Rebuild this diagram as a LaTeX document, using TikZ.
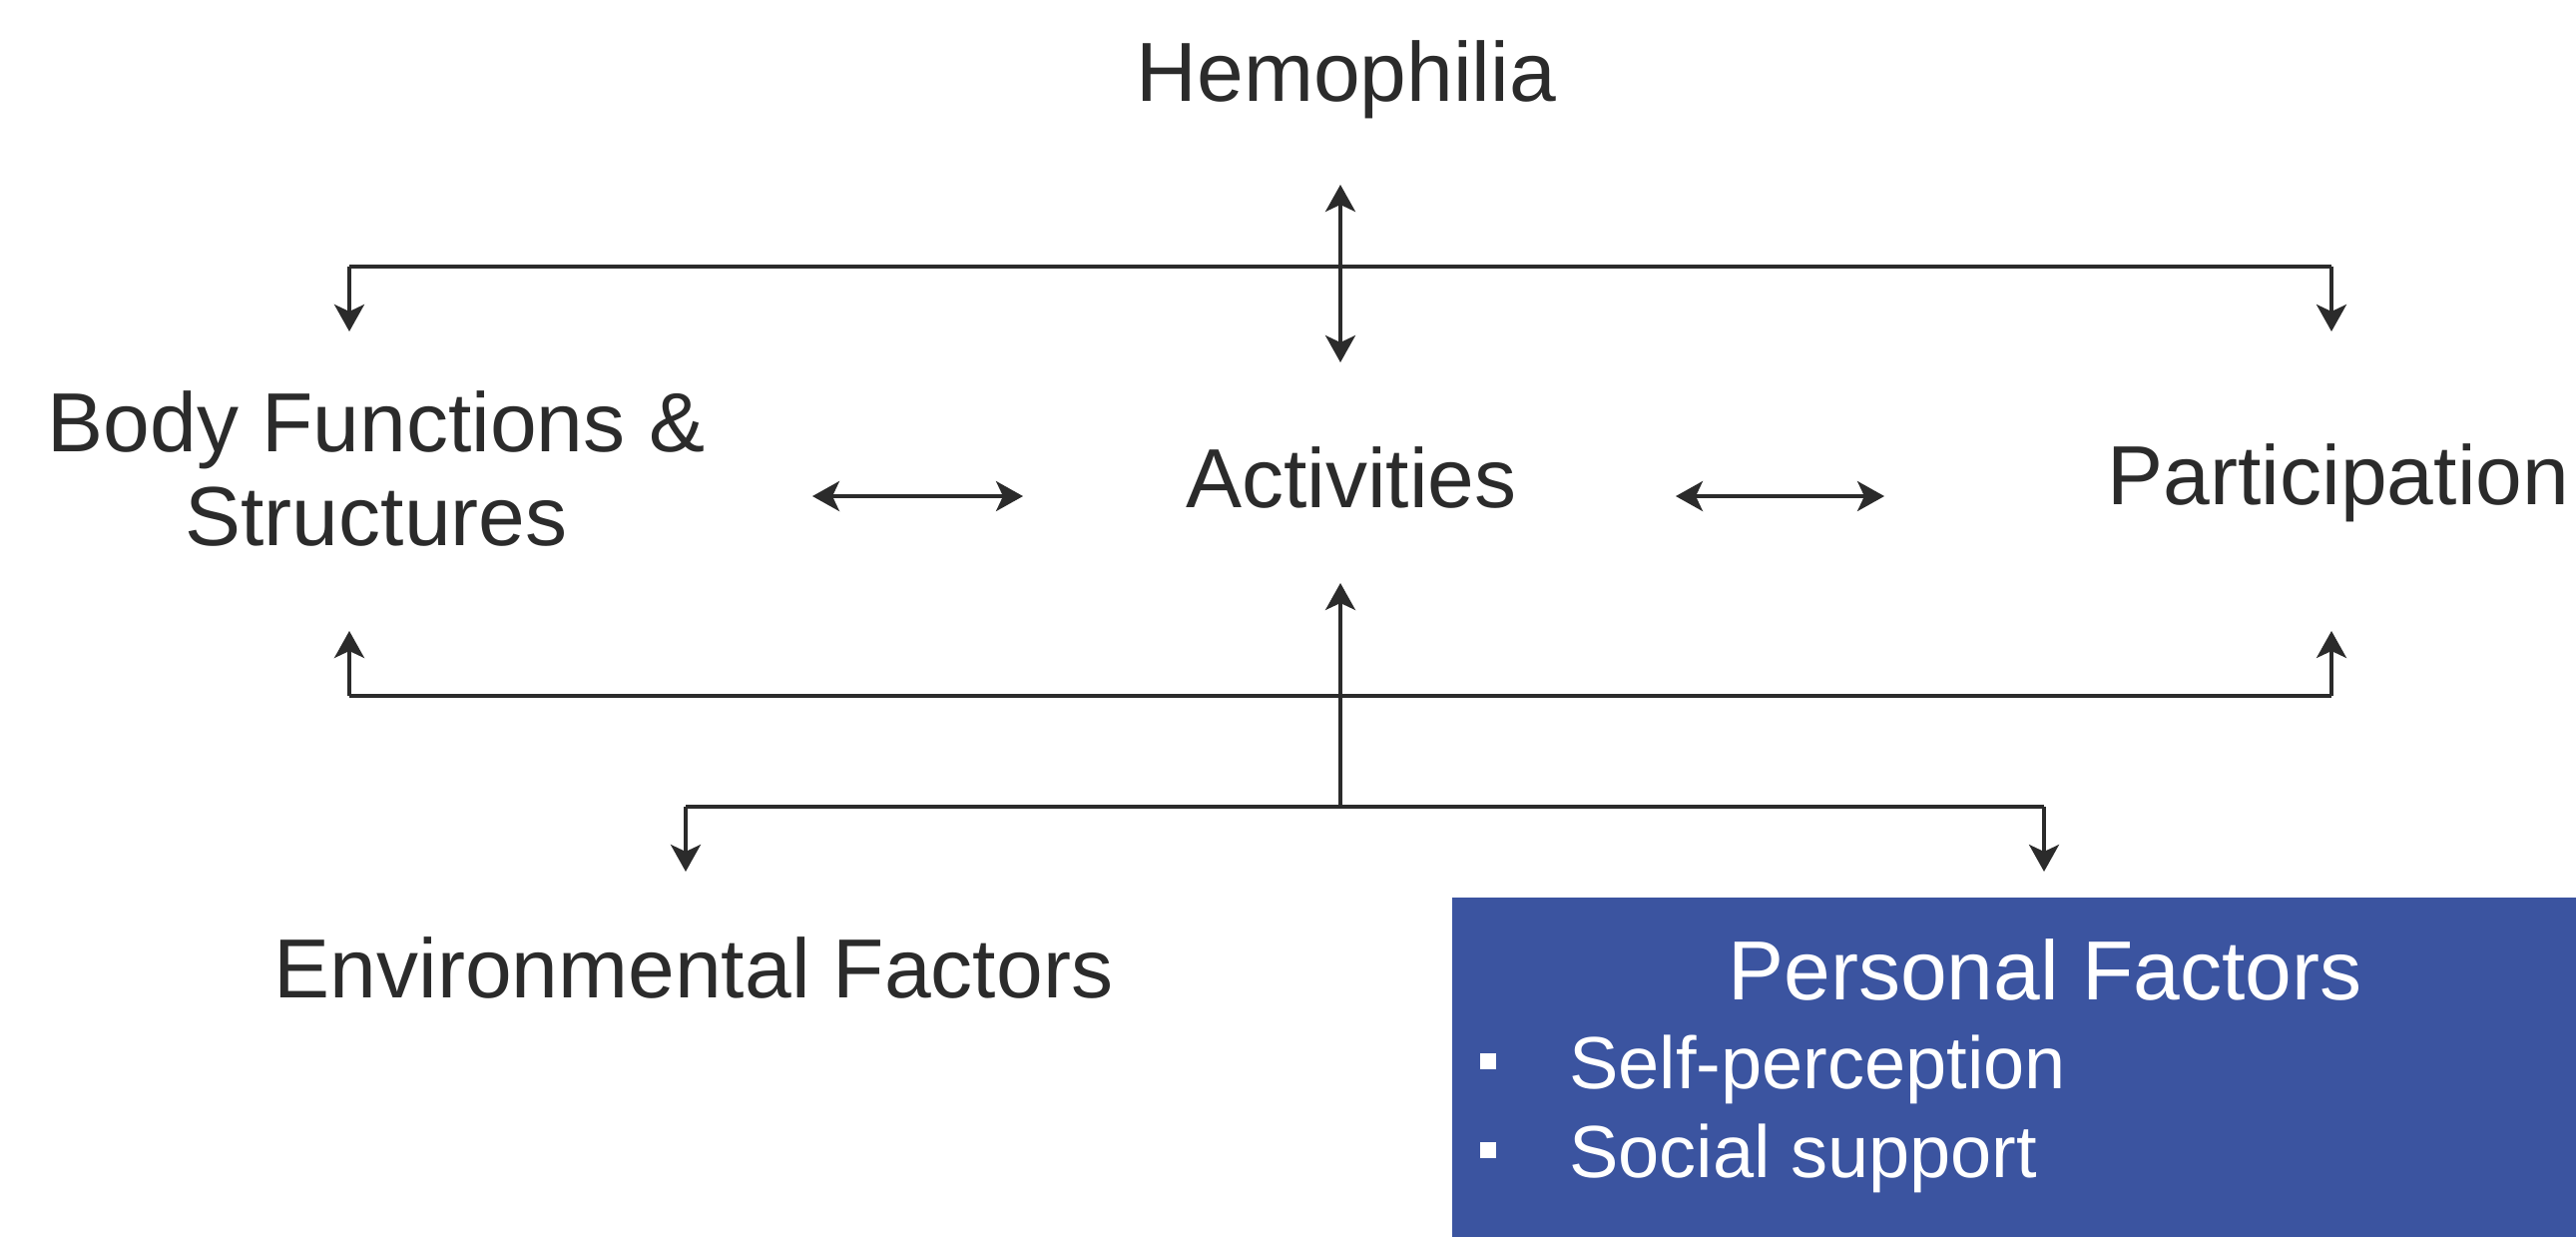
\documentclass[tikz,border=0pt]{standalone}
\usepackage{fontspec}
\setmainfont{Liberation Sans}
\usetikzlibrary{arrows.meta}
\definecolor{ink}{HTML}{2B2B2B}
\definecolor{pfblue}{HTML}{3B54A0}
\tikzset{
  lbl/.style={anchor=base, text=ink, inner sep=0pt, font=\fontsize{84}{97}\selectfont},
  conn/.style={draw=ink, line width=3.5pt},
  tip/.style={-{Stealth[length=27pt,width=30pt,inset=7pt]}},
  tips/.style={{Stealth[length=27pt,width=30pt,inset=7pt]}-{Stealth[length=27pt,width=30pt,inset=7pt]}},
  bul/.style={fill=white, minimum size=16pt, inner sep=0pt, draw=none},
}
\begin{document}
\begin{tikzpicture}[x=1pt,y=-1pt]
\useasboundingbox (0,0) rectangle (2581,1239);
% blue box
\fill[pfblue] (1455,899) rectangle (2581,1239);
% labels
\node[lbl] (hemo) at (1349,102) {Hemophilia};
\node[lbl, align=center, font=\fontsize{84}{94}\selectfont] (body) at (377,546) {Body Functions \&\\Structures};
\node[lbl] (act) at (1354,508) {Activities};
\node[lbl] (part) at (2343,505) {Participation};
\node[lbl] (env) at (695,999) {Environmental Factors};
\node[lbl, text=white] (pf) at (2049,1001) {Personal Factors};
\node[lbl, text=white, anchor=base west, font=\fontsize{74}{88}\selectfont] (pf1) at (1572,1090) {Self-perception};
\node[lbl, text=white, anchor=base west, font=\fontsize{74}{88}\selectfont] (pf2) at (1572,1179) {Social support};
\node[bul] (b1) at (1491,1063) {};
\node[bul] (b2) at (1491,1152) {};
% coordinates
\coordinate (hemoTip) at (1343,185);
\coordinate (actTop) at (1343,363);
\coordinate (tl) at (350,267);
\coordinate (tr) at (2336,267);
\coordinate (tlTip) at (350,332);
\coordinate (trTip) at (2336,332);
\coordinate (bfR) at (814,497);
\coordinate (acL) at (1025,497);
\coordinate (acR) at (1679,497);
\coordinate (paL) at (1888,497);
\coordinate (actBot) at (1343,584);
\coordinate (mid) at (1343,808);
\coordinate (ll) at (350,697);
\coordinate (lr) at (2336,697);
\coordinate (llTip) at (350,632);
\coordinate (lrTip) at (2336,632);
\coordinate (bl) at (687,808);
\coordinate (br) at (2048,808);
\coordinate (blTip) at (687,873);
\coordinate (brTip) at (2048,873);
% connectors
\draw[conn, tips] (hemoTip) -- (actTop);
\draw[conn, tip] (tl) -- (tlTip);
\draw[conn, tip] (tr) -- (trTip);
\draw[conn] (tl) -- (tr);
\draw[conn, tips] (bfR) -- (acL);
\draw[conn, tips] (acR) -- (paL);
\draw[conn, tip] (mid) -- (actBot);
\draw[conn] (ll) -- (lr);
\draw[conn, tip] (ll) -- (llTip);
\draw[conn, tip] (lr) -- (lrTip);
\draw[conn] (bl) -- (br);
\draw[conn, tip] (bl) -- (blTip);
\draw[conn, tip] (br) -- (brTip);
\end{tikzpicture}
\end{document}
